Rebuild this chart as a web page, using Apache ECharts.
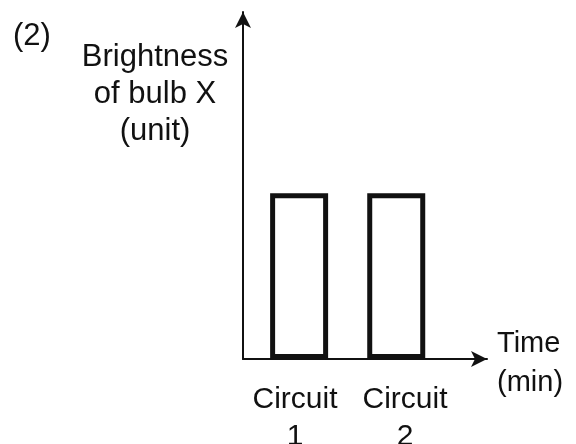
<!DOCTYPE html>
<html lang="en">
<head>
    <meta charset="utf-8"/>
    <title>Brightness of bulb X</title>
    <script type="text/javascript" src="https://cdn.jsdelivr.net/npm/echarts@6/dist/echarts.min.js"></script>
    <style>
        body { margin: 0; background: #fff; }
        #container { width: 576px; height: 444px; }
    </style>
</head>
<body>
<div id="container"></div>
<script type="text/javascript">
    // circuits and where they sit along the time axis
    var circuits = ['Circuit\n1', 'Circuit\n2'];
    var circuitTime = [2.3, 6.28];
    // where the circuit names are printed under the axis
    var labelTime = [2.13, 6.64];
    // brightness (unit) of bulb X in each circuit
    var brightness = [4.78, 4.78];

    var font = '"Liberation Sans", Arial, sans-serif';
    var ink = '#111';

    var barData = [];
    for (var i = 0; i < circuits.length; i++) {
        barData.push([circuitTime[i], brightness[i]]);
    }

    var myChart = echarts.init(document.getElementById('container'));
    var option = {
        animation: false,
        backgroundColor: '#fff',
        title: [
            {
                text: '(2)',
                left: 8, top: 16,
                textStyle: { fontFamily: font, fontSize: 31, fontWeight: 'normal', color: ink }
            },
            {
                text: 'Brightness\nof bulb X\n(unit)',
                left: 150, top: 34,
                textAlign: 'center',
                textStyle: { fontFamily: font, fontSize: 31, fontWeight: 'normal', color: ink, lineHeight: 37, align: 'center' }
            },
            {
                // x axis name, placed past the arrow
                text: 'Time\n(min)',
                left: 492, top: 319,
                textStyle: { fontFamily: font, fontSize: 29, fontWeight: 'normal', color: ink, lineHeight: 39 }
            }
        ],
        grid: { left: 243, right: 89, top: 12, bottom: 85, containLabel: false, outerBoundsMode: 'none' },
        xAxis: {
            type: 'value',
            min: 0, max: 10,
            axisLine: { show: true, symbol: ['none', 'arrow'], symbolSize: [12, 16], lineStyle: { color: ink, width: 2 } },
            axisTick: { show: false },
            splitLine: { show: false },
            axisLabel: {
                customValues: labelTime,
                formatter: function (v) {
                    var k = labelTime.indexOf(v);
                    return k >= 0 ? circuits[k] : '';
                },
                margin: 22,
                fontFamily: font, fontSize: 30, color: ink, lineHeight: 37, align: 'center'
            }
        },
        yAxis: {
            type: 'value',
            min: 0, max: 10,
            axisLine: { show: true, symbol: ['none', 'arrow'], symbolSize: [12, 16], lineStyle: { color: ink, width: 2 } },
            axisTick: { show: false },
            axisLabel: { show: false },
            splitLine: { show: false }
        },
        series: [
            {
                type: 'bar',
                data: barData,
                barWidth: 58,
                itemStyle: { color: '#fff', borderColor: ink, borderWidth: 5 }
            }
        ]
    };
    myChart.setOption(option);
</script>
</body>
</html>
